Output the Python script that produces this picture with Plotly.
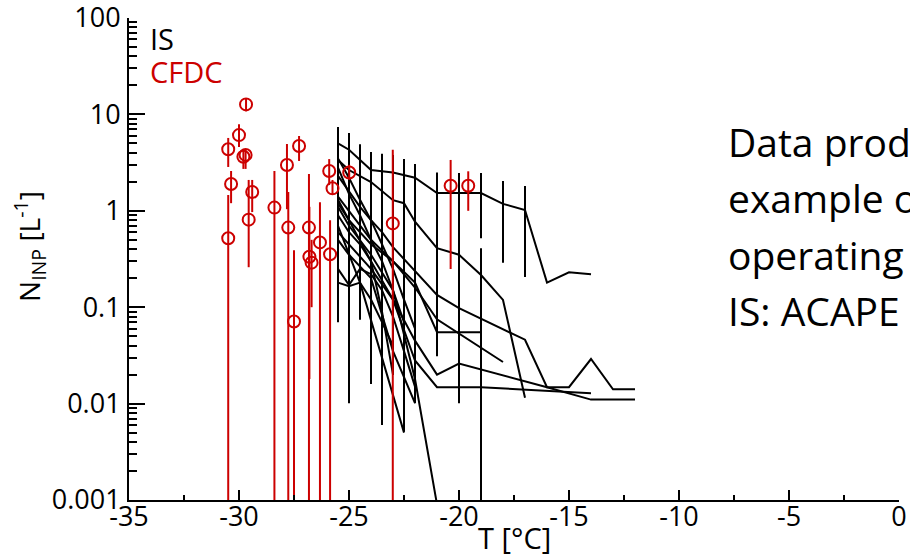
### Loading Package ###

import plotly.graph_objs as go


### Data ###

# CFDC points: temperature [degC], concentration [L-1], error bar low / high
cfdc_temp = [-29.68, -30.0, -30.49, -29.8, -29.7, -30.36, -29.4, -30.49, -29.56, -28.39,
             -27.82, -27.27, -27.76, -26.82, -26.32, -25.86, -26.8, -26.7, -25.9, -25.75,
             -24.99, -23.01, -20.38, -19.58, -27.5]
cfdc_conc = [12.7, 6.1, 4.35, 3.64, 3.8, 1.9, 1.57, 0.52, 0.81, 1.08,
             2.99, 4.7, 0.67, 0.67, 0.47, 0.354, 0.334, 0.29, 2.59, 1.71,
             2.5, 0.74, 1.82, 1.82, 0.071]
cfdc_low = [10.8, 4.6, 2.85, 2.72, 2.72, 1.2, 0.97, 1e-4, 0.26, 1e-4,
            1.04, 3.29, 1e-4, 1e-4, 1e-4, 1e-4, 0.018, 0.1, 1.85, 1.46,
            2.1, 1e-4, 0.249, 1.0, 1e-4]
cfdc_high = [14.8, 7.9, 5.7, 4.27, 4.27, 2.59, 2.09, 1.46, 2.09, 2.59,
             4.93, 5.97, 1.57, 2.41, 1.23, 0.80, 1.1, 0.5, 3.44, 2.09,
             3.0, 4.3, 3.37, 2.57, 0.39]

# IS spectra: one list per filter
is_temp = [
    [-25.5, -25, -24, -23, -22, -21, -20, -19, -18, -17, -16, -15, -14],
    [-25.5, -25, -24, -23, -22.5, -22, -21, -20, -19, -18, -17],
    [-25.5, -25, -24.5, -24, -23.5, -23, -22, -21, -20, -17, -16, -15, -14, -13, -12],
    [-25.5, -25, -24.5, -24, -23, -22, -21, -18],
    [-25.5, -25, -24, -23, -22, -21, -19],
    [-25.5, -25, -24.5, -24, -23, -22, -21, -20, -16, -14, -12],
    [-25.5, -25, -24, -23, -22, -21, -20, -19, -14],
    [-25.5, -25, -24, -23, -22, -21],
    [-25.5, -25, -24.5, -22.5],
    [-25.5, -25, -24.5, -24, -23.5, -23, -22.5, -22],
    [-25.5, -25, -24.5, -24, -23.5, -23, -22.5],
    [-25.5, -25, -24.5, -24, -23.5, -23],
    [-25.5, -25, -24.5, -24, -23.5, -23, -22.5, -22],
    [-25.5, -25, -24.5, -24, -23.5, -23],
    [-25.5, -25, -24, -23, -22],
]
is_conc = [
    [5.0, 4.3, 2.65, 2.5, 2.2, 1.53, 1.53, 1.53, 1.18, 1.02, 0.18, 0.23, 0.22],
    [3.37, 2.65, 1.99, 1.29, 1.2, 0.77, 0.41, 0.35, 0.216, 0.119, 0.0115],
    [2.3, 1.6, 1.1, 0.8, 0.6, 0.42, 0.24, 0.134, 0.098, 0.046, 0.0148, 0.0148, 0.029, 0.0141, 0.0141],
    [1.4, 1.0, 0.7, 0.5, 0.3, 0.16, 0.075, 0.027],
    [1.2, 0.8, 0.45, 0.3, 0.18, 0.055, 0.055],
    [0.9, 0.6, 0.45, 0.3, 0.12, 0.045, 0.02, 0.026, 0.0148, 0.011, 0.011],
    [0.6, 0.45, 0.25, 0.12, 0.028, 0.0148, 0.0148, 0.0148, 0.0128],
    [1.1, 0.7, 0.35, 0.15, 0.018, 0.0009],
    [0.7, 0.35, 0.18, 0.005],
    [3.5, 2.2, 1.3, 0.8, 0.45, 0.25, 0.12, 0.06],
    [2.8, 1.5, 0.9, 0.5, 0.3, 0.15, 0.07],
    [0.18, 0.165, 0.18, 0.12, 0.07, 0.04],
    [0.25, 0.17, 0.25, 0.22, 0.15, 0.08, 0.035, 0.015],
    [1.3, 0.8, 0.5, 0.3, 0.09, 0.02],
    [0.5, 0.35, 0.2, 0.035, 0.0101],
]

# IS error bars (overlapping bars at each temperature)
is_bar_temp = [-25.5, -25, -24.5, -24, -23.5, -23, -22.5, -22, -21, -20, -19, -19, -18, -17]
is_bar_low = [0.070, 0.0101, 0.074, 0.016, 0.006, 0.0198, 0.0051, 0.0101, 0.031, 0.0101, 0.52, 1e-4, 0.29, 0.206]
is_bar_high = [7.4, 6.4, 4.9, 4.07, 3.9, 3.8, 3.44, 3.06, 2.5, 2.47, 2.47, 0.41, 2.04, 1.81]

# Axis ticks
x_ticks = [-35, -30, -25, -20, -15, -10, -5, 0]
x_tick_text = ["-35", "-30", "-25", "-20", "-15", "-10", "-5", "0"]
y_ticks = [0.001, 0.01, 0.1, 1, 10, 100]
y_tick_text = ["0.001", "0.01", "0.1", "1", "10", "100"]
y_minor = [m * 10 ** e for e in range(-3, 2) for m in range(2, 10)]

# Slide text on the right
side_text = ["Data prod", "example o", "operating", "IS: ACAPE"]

red = "#cc0000"
font_family = "Open Sans"


### Creating Figure ###

figure = go.Figure()

# IS error bars
bar_x, bar_y = [], []
for t, lo, hi in zip(is_bar_temp, is_bar_low, is_bar_high):
    bar_x += [t, t, None]
    bar_y += [lo, hi, None]

figure.add_trace(go.Scatter(
    x = bar_x, y = bar_y,
    mode = "lines",
    line = dict(color = "black", width = 2),
    hoverinfo = "skip"
))

# IS spectra
for temps, concs in zip(is_temp, is_conc):
    figure.add_trace(go.Scatter(
        x = temps, y = concs,
        mode = "lines",
        line = dict(color = "black", width = 2)
    ))

# CFDC error bars
red_x, red_y = [], []
for t, lo, hi in zip(cfdc_temp, cfdc_low, cfdc_high):
    red_x += [t, t, None]
    red_y += [lo, hi, None]

figure.add_trace(go.Scatter(
    x = red_x, y = red_y,
    mode = "lines",
    line = dict(color = red, width = 2),
    hoverinfo = "skip"
))

# CFDC points
figure.add_trace(go.Scatter(
    x = cfdc_temp, y = cfdc_conc,
    mode = "markers",
    marker = dict(symbol = "circle-open", size = 12, color = red,
                  line = dict(color = red, width = 2))
))


### Layout ###

figure.update_layout(
    width = 910, height = 558,
    margin = dict(l = 129, r = 11, t = 18, b = 58, autoexpand = False),
    paper_bgcolor = "white",
    plot_bgcolor = "white",
    showlegend = False,
    font = dict(family = font_family, color = "black", size = 26),
    xaxis = dict(
        range = [-35, 0],
        tickvals = x_ticks, ticktext = x_tick_text,
        ticks = "inside", ticklen = 10, tickwidth = 2, tickcolor = "black",
        minor = dict(dtick = 2.5, tick0 = -35, ticks = "inside", ticklen = 5,
                     tickwidth = 2, tickcolor = "black", showgrid = False),
        showline = True, linewidth = 2, linecolor = "black",
        showgrid = False, zeroline = False, automargin = False,
        ticklabelstandoff = -8, ticklabeloverflow = "allow",
        tickfont = dict(size = 27)
    ),
    yaxis = dict(
        type = "log",
        range = [-3, 2.0002],
        tickvals = y_ticks, ticktext = y_tick_text,
        ticks = "inside", ticklen = 16, tickwidth = 2, tickcolor = "black",
        minor = dict(tickvals = y_minor, ticks = "inside", ticklen = 8,
                     tickwidth = 2, tickcolor = "black", showgrid = False),
        showline = True, linewidth = 2, linecolor = "black",
        showgrid = False, zeroline = False, automargin = False,
        ticklabelstandoff = 1, ticklabeloverflow = "allow",
        tickfont = dict(size = 27)
    )
)

# Axis titles
figure.add_annotation(
    text = "T [°C]", xref = "paper", yref = "paper",
    x = 0.501, y = -0.0788, xanchor = "center", yanchor = "middle",
    showarrow = False, font = dict(size = 29)
)
figure.add_annotation(
    text = "N<sub>INP</sub> [L<sup>-1</sup>]", xref = "paper", yref = "paper",
    x = -0.1286, y = 0.527, xanchor = "center", yanchor = "middle",
    textangle = -90, showarrow = False, font = dict(size = 28)
)

# Legend labels
figure.add_annotation(
    text = "IS", xref = "paper", yref = "paper",
    x = 0.025, y = 0.958, xanchor = "left", yanchor = "middle",
    showarrow = False, font = dict(size = 29, color = "black")
)
figure.add_annotation(
    text = "CFDC", xref = "paper", yref = "paper",
    x = 0.025, y = 0.888, xanchor = "left", yanchor = "middle",
    showarrow = False, font = dict(size = 29, color = red)
)

# Slide text
for i, line in enumerate(side_text):
    figure.add_annotation(
        text = line, xref = "paper", yref = "paper",
        x = 0.775, y = (500 - (141 + 56.5 * i)) / 482,
        xanchor = "left", yanchor = "middle",
        showarrow = False, font = dict(size = 39, color = "black")
    )

# drop the default page margin so the figure fills the window exactly
figure.write_html("out.html",
                  config = {"displayModeBar": False},
                  post_script = "document.body.style.margin = '0';")
